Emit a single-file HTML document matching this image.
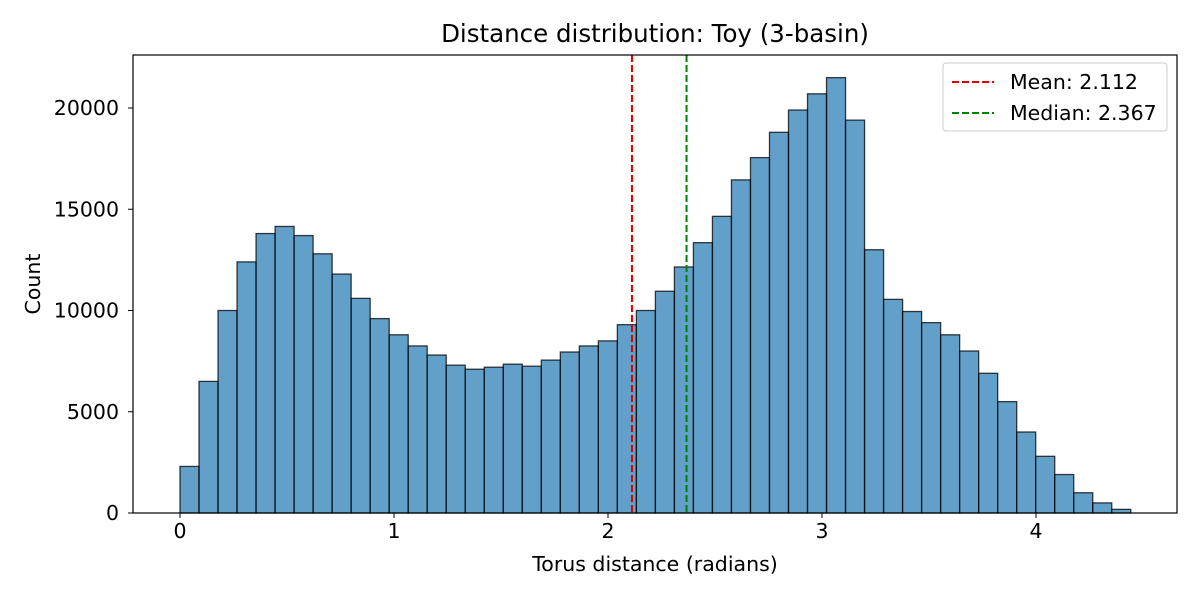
<!DOCTYPE html>
<html><head><meta charset="utf-8">
<style>
body{margin:0;background:#fff;}
svg{display:block;font-family:"DejaVu Sans","Liberation Sans",sans-serif;}
</style></head>
<body>
<svg id="chart" width="1200" height="600">
<rect width="1200" height="600" fill="#fff"/>
</svg>
<script>
const counts=[2300,6500,10000,12400,13800,14150,13700,12800,11800,10600,9600,8800,8250,7800,7300,7100,7200,7350,7250,7550,7950,8250,8500,9300,10000,10950,12150,13350,14650,16450,17550,18800,19900,20700,21500,19400,13000,10550,9950,9400,8800,8000,6900,5500,4000,2800,1900,1000,500,180];
const binMax=4.4429;
const xTicks=[0,1,2,3,4];
const yTicks=[0,5000,10000,15000,20000];
const meanVal=2.112;
const medianVal=2.367;

const L=133,R=1177,T=55,B=513;
const x=v=>180+v*214;
const y=v=>513-v*405/20000;
const svg=document.getElementById('chart');
const NS='http://www.w3.org/2000/svg';
function mk(tag,attrs,parent){const e=document.createElementNS(NS,tag);for(const k in attrs)e.setAttribute(k,attrs[k]);(parent||svg).appendChild(e);return e;}

const bw=binMax/counts.length;
const bars=mk('g',{});


counts.forEach((c,i)=>{
  const x0=x(i*bw),x1=x((i+1)*bw);
  const r=mk('rect',{x:x0,y:y(c),width:x1-x0,height:y(0)-y(c),fill:'rgba(31,119,180,0.7)',stroke:'rgba(0,0,0,0.75)','stroke-width':1.3},bars);
  
  
});

const ml=mk('line',{x1:x(meanVal),x2:x(meanVal),y1:T,y2:B,stroke:'#e00000','stroke-width':2,'stroke-dasharray':'7,3'});


const mdl=mk('line',{x1:x(medianVal),x2:x(medianVal),y1:T,y2:B,stroke:'#008000','stroke-width':2,'stroke-dasharray':'7,3'});



const frame=mk('rect',{x:L,y:T,width:R-L,height:B-T,fill:'none',stroke:'#000','stroke-width':1.2});



xTicks.forEach(t=>{
  mk('line',{x1:x(t),x2:x(t),y1:B,y2:B+5,stroke:'#000','stroke-width':1});
  const tx=mk('text',{x:x(t),y:B+25,'text-anchor':'middle','font-size':20.5,fill:'#000'});
  tx.textContent=t;
  
  
});
yTicks.forEach(t=>{
  mk('line',{x1:L-5,x2:L,y1:y(t),y2:y(t),stroke:'#000','stroke-width':1});
  const tx=mk('text',{x:L-14,y:y(t)+7,'text-anchor':'end','font-size':20.5,fill:'#000'});
  tx.textContent=t;
  
  
});

const title=mk('text',{x:655,y:42,'text-anchor':'middle','font-size':24.5,fill:'#000'});
title.textContent='Distance distribution: Toy (3-basin)';


const xt=mk('text',{x:655,y:571,'text-anchor':'middle','font-size':20.5,fill:'#000'});
xt.textContent='Torus distance (radians)';


const yt=mk('text',{x:40,y:284,'text-anchor':'middle','font-size':20.5,fill:'#000',transform:'rotate(-90 40 284)'});
yt.textContent='Count';



const lg=mk('g',{});


mk('rect',{x:943,y:63,width:224,height:68,rx:3,fill:'#fff','fill-opacity':0.8,stroke:'#ccc'},lg);
const entries=[['#e00000','Mean: '+meanVal.toFixed(3),82],['#008000','Median: '+medianVal.toFixed(3),113]];
entries.forEach(([c,l,yy])=>{
  const g=mk('g',{},lg);
  
  
  mk('line',{x1:952,x2:994,y1:yy,y2:yy,stroke:c,'stroke-width':2,'stroke-dasharray':'7,3'},g);
  const t=mk('text',{x:1010,y:yy+7,'font-size':20.5,fill:'#000'},g);
  t.textContent=l;
});
</script>
</body></html>
